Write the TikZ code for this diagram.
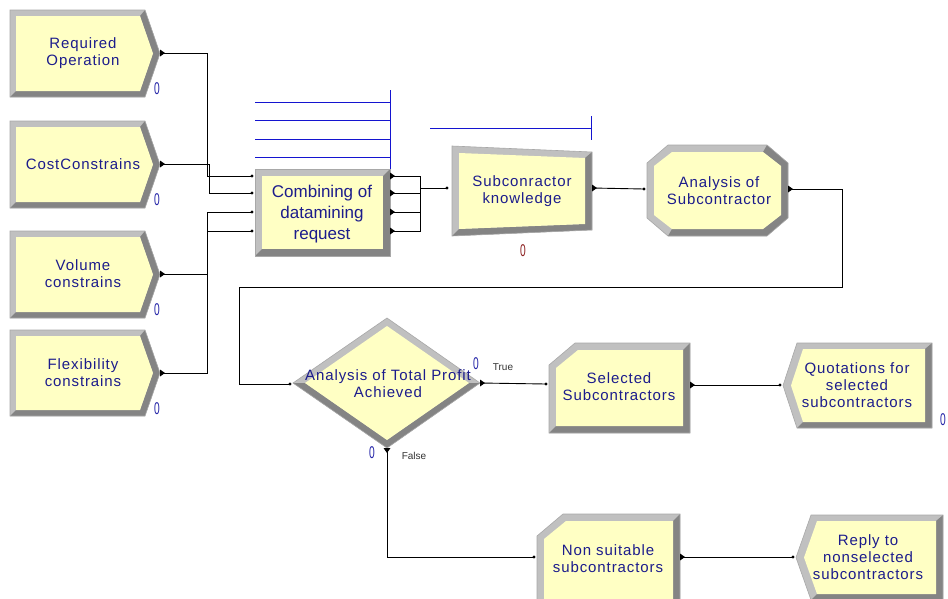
\documentclass[tikz,border=0pt]{standalone}
\usepackage{fontspec}
\setmainfont{Liberation Sans}
\newfontfamily\modfont[LetterSpace=6]{Liberation Sans}
\newfontfamily\plainfont{Liberation Sans}

\definecolor{bevL}{HTML}{C0C0C0}
\definecolor{bevD}{HTML}{848484}
\definecolor{bevE}{HTML}{A8A8A8}
\definecolor{face}{HTML}{FFFFC4}
\definecolor{txtblue}{HTML}{1C1C8C}
\definecolor{cntblue}{HTML}{2424A8}
\definecolor{cntred}{HTML}{8C2020}
\definecolor{qblue}{HTML}{1414D0}

\tikzset{
  lbl/.style={text=txtblue, font=\modfont\fontsize{15}{17}\selectfont, align=center, inner sep=0pt},
  lblbig/.style={text=txtblue, font=\plainfont\fontsize{17}{21}\selectfont, align=center, inner sep=0pt},
  cnt/.style={text=cntblue, font=\plainfont\fontsize{17}{17}\selectfont, inner sep=0pt},
  cntr/.style={cnt, text=cntred},
  branch/.style={text=black!80, font=\plainfont\fontsize{10}{10}\selectfont, inner sep=0pt},
  conn/.style={draw=black, line width=0.9pt},
  queue/.style={draw=qblue, line width=1pt},
  edge/.style={draw=bevE, line width=0.6pt},
  exitR/.pic={\fill (0,-3.5) -- (5,0) -- (0,3.5) -- cycle;},
  exitD/.pic={\fill (-3.5,0) -- (0,5) -- (3.5,0) -- cycle;},
}
\newcommand\entrydot[1]{\fill (#1) circle (1.6);}
\newcommand\zero{\scalebox{0.6}[1]{0}}

% Create module: arrow-shaped box pointing right
\newcommand\createmod[2]{%
  \pgfmathsetmacro\ym{(#1+#2)/2}%
  \fill[bevL] (10,#1) -- (145,#1) -- (160,\ym) -- (145,#2) -- (10,#2) -- cycle;
  \fill[bevD] (145,#1) -- (160,\ym) -- (145,#2) -- (10,#2) -- (16,{#2-6}) -- (140,{#2-6}) -- (153,\ym) -- (140,{#1+6}) -- cycle;
  \fill[face] (16,{#1+6}) -- (140,{#1+6}) -- (153,\ym) -- (140,{#2-6}) -- (16,{#2-6}) -- cycle;
  \draw[edge] (10,#1) -- (145,#1) -- (160,\ym) -- (145,#2) -- (10,#2) -- cycle;
}
% Plain bevelled rectangle
\newcommand\bevrect[4]{%
  \fill[bevL] (#1,#2) rectangle (#3,#4);
  \fill[bevD] (#3,#2) -- (#3,#4) -- (#1,#4) -- ({#1+7},{#4-7}) -- ({#3-7},{#4-7}) -- ({#3-7},{#2+7}) -- cycle;
  \fill[face] ({#1+7},{#2+7}) rectangle ({#3-7},{#4-7});
  \draw[edge] (#1,#2) rectangle (#3,#4);
}
% Bevelled box with the top-left corner cut off
\newcommand\cutbox[4]{%
  \fill[bevL] ({#1+26},#2) -- (#3,#2) -- (#3,#4) -- (#1,#4) -- (#1,{#2+22}) -- cycle;
  \fill[bevD] (#3,#2) -- (#3,#4) -- (#1,#4) -- ({#1+7},{#4-7}) -- ({#3-7},{#4-7}) -- ({#3-7},{#2+7}) -- cycle;
  \fill[face] ({#1+29},{#2+7}) -- ({#3-7},{#2+7}) -- ({#3-7},{#4-7}) -- ({#1+7},{#4-7}) -- ({#1+7},{#2+25}) -- cycle;
  \draw[edge] ({#1+26},#2) -- (#3,#2) -- (#3,#4) -- (#1,#4) -- (#1,{#2+22}) -- cycle;
}
% Dispose module: arrow-shaped box pointing left
\newcommand\disposemod[5]{% xp x1 x2 y1 y2
  \pgfmathsetmacro\ym{(#4+#5)/2}%
  \fill[bevL] (#1,\ym) -- (#2,#4) -- (#3,#4) -- (#3,#5) -- (#2,#5) -- cycle;
  \fill[bevD] (#3,#4) -- (#3,#5) -- (#2,#5) -- ({#2+6},{#5-6}) -- ({#3-7},{#5-6}) -- ({#3-7},{#4+6}) -- cycle;
  \fill[face] ({#1+8},\ym) -- ({#2+6},{#4+6}) -- ({#3-7},{#4+6}) -- ({#3-7},{#5-6}) -- ({#2+6},{#5-6}) -- cycle;
  \draw[edge] (#1,\ym) -- (#2,#4) -- (#3,#4) -- (#3,#5) -- (#2,#5) -- cycle;
}

\begin{document}
\begin{tikzpicture}[x=1pt,y=-1pt]
\useasboundingbox (0,0) rectangle (948,598);
\fill[white] (0,0) rectangle (948,598);

% ---------- source modules ----------
\createmod{10}{97}
\createmod{121}{208}
\createmod{231}{318}
\createmod{330}{416}
\node[lbl] (req)  at (83,53)  {Required\\Operation};
\node[lbl] (cost) at (83,164) {CostConstrains};
\node[lbl] (vol)  at (83,274) {Volume\\constrains};
\node[lbl] (flex) at (83,373) {Flexibility\\constrains};
\node[cnt] (req-n)  at (157,89)  {\zero};
\node[cnt] (cost-n) at (157,200) {\zero};
\node[cnt] (vol-n)  at (157,310) {\zero};
\node[cnt] (flex-n) at (157,409) {\zero};

% ---------- match module with its queues ----------
\foreach \qy in {102,120,139,157} {\draw[queue] (255,\qy) -- (390,\qy);}
\draw[queue] (390,90) -- (390,169);
\bevrect{255}{169}{390}{256}
\node[lblbig] (cmb) at (322,214) {Combining of\\datamining\\request};

% ---------- trapezoid module ----------
\draw[queue] (430,128) -- (591,128);
\draw[queue] (591,116) -- (591,140);
\fill[bevL] (452,146) -- (592,152) -- (592,230) -- (452,236) -- cycle;
\fill[bevD] (592,152) -- (592,230) -- (452,236) -- (459,229) -- (585,224) -- (585,158) -- cycle;
\fill[face] (459,153) -- (585,158) -- (585,224) -- (459,229) -- cycle;
\draw[edge] (452,146) -- (592,152) -- (592,230) -- (452,236) -- cycle;
\node[lbl] (sub) at (522,191) {Subconractor\\knowledge};
\node[cntr] (sub-n) at (523,251) {\zero};

% ---------- octagonal module ----------
\fill[bevL] (668,145) -- (767,145) -- (788,163) -- (788,218) -- (767,236) -- (668,236) -- (647,218) -- (647,163) -- cycle;
\fill[bevD] (767,145) -- (788,163) -- (788,218) -- (767,236) -- (668,236) -- (672,229) -- (763,229) -- (781,215) -- (781,166) -- (763,152) -- cycle;
\fill[face] (672,152) -- (763,152) -- (781,166) -- (781,215) -- (763,229) -- (672,229) -- (654,215) -- (654,166) -- cycle;
\draw[edge] (668,145) -- (767,145) -- (788,163) -- (788,218) -- (767,236) -- (668,236) -- (647,218) -- (647,163) -- cycle;
\node[lbl] (ana) at (719,191) {Analysis of\\Subcontractor};

% ---------- decision ----------
\fill[bevL] (293,383) -- (387,318) -- (480,383) -- (387,448) -- cycle;
\fill[bevD] (293,383) -- (387,448) -- (480,383) -- (469,383) -- (387,440) -- (305,383) -- cycle;
\fill[face] (305,383) -- (387,326) -- (469,383) -- (387,440) -- cycle;
\draw[edge] (293,383) -- (387,318) -- (480,383) -- (387,448) -- cycle;
\node[lbl] (dec) at (388,384) {Analysis of Total Profit\\Achieved};
\node[cnt] (dec-tn) at (476,364) {\zero};
\node[cnt] (dec-fn) at (372,453) {\zero};
\node[branch] (dec-t) at (503,367) {True};
\node[branch] (dec-f) at (414,456) {False};

% ---------- assignment modules ----------
\cutbox{549}{343}{690}{433}
\node[lbl] (sel) at (619,387) {Selected\\Subcontractors};
\cutbox{537}{514}{680}{606}
\node[lbl] (non) at (608,559) {Non suitable\\subcontractors};

% ---------- sink modules ----------
\disposemod{783}{797}{932}{343}{428}
\node[lbl] (quo) at (857,385) {Quotations for\\selected\\subcontractors};
\node[cnt] (quo-n) at (943,420) {\zero};
\disposemod{796}{811}{943}{515}{600}
\node[lbl] (rep) at (868,557) {Reply to\\nonselected\\subcontractors};

% ---------- ports ----------
\coordinate (req-out)  at (160,53);
\coordinate (cost-out) at (160,164);
\coordinate (vol-out)  at (160,274);
\coordinate (flex-out) at (160,373);
\coordinate (cmb-in1) at (252,176);
\coordinate (cmb-in2) at (252,193);
\coordinate (cmb-in3) at (252,212);
\coordinate (cmb-in4) at (252,231);
\coordinate (cmb-out1) at (390,176);
\coordinate (cmb-out2) at (390,193);
\coordinate (cmb-out3) at (390,212);
\coordinate (cmb-out4) at (390,231);
\coordinate (sub-in)  at (447,188);
\coordinate (sub-out) at (592,188);
\coordinate (ana-in)  at (644,189);
\coordinate (ana-out) at (788,189);
\coordinate (dec-in)  at (290,384);
\coordinate (dec-true)  at (480,383);
\coordinate (dec-false) at (387,448);
\coordinate (sel-in)  at (546,384);
\coordinate (sel-out) at (690,385);
\coordinate (quo-in)  at (780,385);
\coordinate (non-in)  at (534,557);
\coordinate (non-out) at (680,557);
\coordinate (rep-in)  at (793,557);

% ---------- connectors ----------
\draw[conn] (req-out)  -- ++(47,0) |- (cmb-in1);
\draw[conn] (cost-out) -- ++(49,0) |- (cmb-in2);
\draw[conn] (vol-out)  -- ++(47,0) |- (cmb-in3);
\draw[conn] (flex-out) -- ++(47,0) |- (cmb-in4);
\foreach \k in {1,2,3,4} {\draw[conn] (cmb-out\k) -- ++(30,0) |- (sub-in);}
\draw[conn] (sub-out) -- (ana-in);
\draw[conn] (ana-out) -- ++(54,0) -- ++(0,98) -- (239,287) |- (dec-in);
\draw[conn] (dec-true) -- (sel-in);
\draw[conn] (dec-false) |- (non-in);
\draw[conn] (sel-out) -- (quo-in);
\draw[conn] (non-out) -- (rep-in);

% exit points and entry points
\foreach \c in {req-out,cost-out,vol-out,flex-out,cmb-out1,cmb-out2,cmb-out3,cmb-out4,sub-out,ana-out,dec-true,sel-out,non-out}
  {\pic at (\c) {exitR};}
\pic at (dec-false) {exitD};
\foreach \c in {cmb-in1,cmb-in2,cmb-in3,cmb-in4,sub-in,ana-in,dec-in,sel-in,quo-in,non-in,rep-in}
  {\entrydot{\c}}
\end{tikzpicture}
\end{document}
